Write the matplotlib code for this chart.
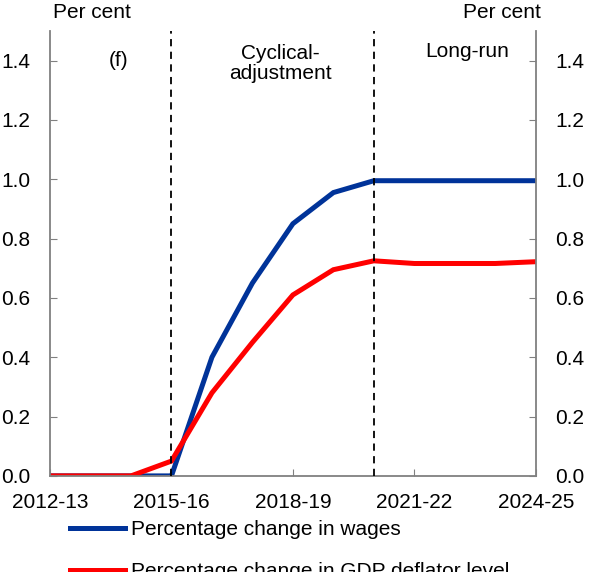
import matplotlib.pyplot as plt

plt.rcParams['font.family'] = ['Liberation Sans', 'DejaVu Sans']

years = ["2012-13", "2013-14", "2014-15", "2015-16", "2016-17", "2017-18", "2018-19",
         "2019-20", "2020-21", "2021-22", "2022-23", "2023-24", "2024-25"]
wages = [0.0, 0.0, 0.0, 0.0, 0.40, 0.65, 0.85, 0.955, 0.995, 0.995, 0.995, 0.995, 0.995]
gdp_deflator = [0.0, 0.0, 0.0, 0.05, 0.28, 0.45, 0.61, 0.695, 0.725, 0.716, 0.716, 0.716, 0.722]
shown_years = ["2012-13", "2015-16", "2018-19", "2021-22", "2024-25"]
y_ticks = [0.0, 0.2, 0.4, 0.6, 0.8, 1.0, 1.2, 1.4]
phase_breaks = ["2015-16", "2020-21"]

x = list(range(len(years)))
blue = '#003399'
red = '#ff0000'
grey = '#808080'
fs = 15

fig = plt.figure(figsize=(5.92, 5.72), dpi=100)
ax = fig.add_axes([0.0845, 0.168, 0.8205, 0.778])

ax.plot(x, wages, color=blue, lw=3.6, label='Percentage change in wages', solid_joinstyle='miter')
ax.plot(x, gdp_deflator, color=red, lw=3.6, label='Percentage change in GDP deflator level',
        solid_joinstyle='miter')
for b in phase_breaks:
    ax.axvline(years.index(b), color='black', lw=1.3, ls=(0, (4, 3)), zorder=5)

ax.set_xlim(0, len(years) - 1)
ax.set_ylim(0, 1.5)
ax.set_xticks([years.index(y) for y in shown_years])
ax.set_xticklabels(shown_years)
ax.set_yticks(y_ticks)
ax.set_yticklabels([f"{v:.1f}" for v in y_ticks])
ax.tick_params(axis='both', direction='in', length=5, color=grey, labelsize=fs)
ax.tick_params(axis='x', pad=12)
ax.tick_params(axis='y', right=True, labelright=True, pad=14)

ax.spines['top'].set_visible(False)
for s in ['left', 'right', 'bottom']:
    ax.spines[s].set_color(grey)
    ax.spines[s].set_linewidth(1.3)

fig.text(53 / 592, 1 - 13 / 572, 'Per cent', fontsize=fs, ha='left', va='center')
fig.text(541 / 592, 1 - 13 / 572, 'Per cent', fontsize=fs, ha='right', va='center')
ax.text(1.7, 1.4, '(f)', fontsize=fs, ha='center', va='center')
ax.text(5.7, 1.39, 'Cyclical-\nadjustment', fontsize=fs, ha='center', va='center', linespacing=1.1)
ax.text(10.3, 1.43, 'Long-run', fontsize=fs, ha='center', va='center')

ax.legend(loc='upper left', bbox_to_anchor=(62 / 592, 1 - 512 / 572), bbox_transform=fig.transFigure,
          frameon=False, fontsize=fs, handlelength=2.6, handletextpad=0.3, labelspacing=1.1,
          borderaxespad=0)

fig.savefig('out.png', dpi=100)
